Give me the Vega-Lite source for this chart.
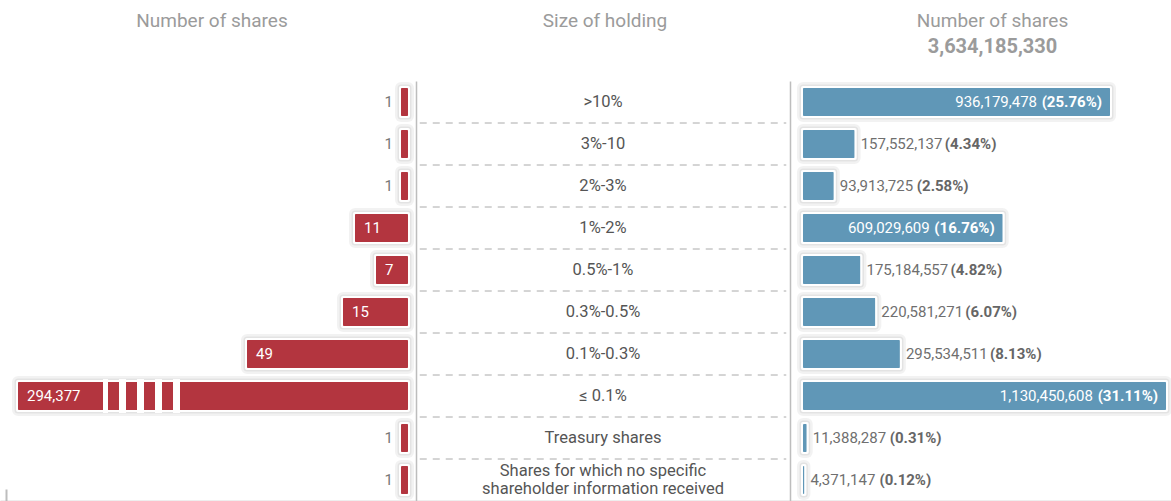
{
  "$schema": "https://vega.github.io/schema/vega-lite/v6.json",
  "padding": {"top": 12, "left": 0, "right": 0, "bottom": 0},
  "spacing": 0,
  "bounds": "flush",
  "background": "white",
  "config": {
    "view": {"stroke": null},
    "font": "Roboto",
    "concat": {"spacing": 0}
  },
  "datasets": {
    "rows": [
      {"cat": ">10%", "holders": 1, "shares": 936179478, "pct": 25.76},
      {"cat": "3%-10", "holders": 1, "shares": 157552137, "pct": 4.34},
      {"cat": "2%-3%", "holders": 1, "shares": 93913725, "pct": 2.58},
      {"cat": "1%-2%", "holders": 11, "shares": 609029609, "pct": 16.76},
      {"cat": "0.5%-1%", "holders": 7, "shares": 175184557, "pct": 4.82},
      {"cat": "0.3%-0.5%", "holders": 15, "shares": 220581271, "pct": 6.07},
      {"cat": "0.1%-0.3%", "holders": 49, "shares": 295534511, "pct": 8.13},
      {"cat": "≤ 0.1%", "holders": 294377, "shares": 1130450608, "pct": 31.11},
      {"cat": "Treasury shares", "holders": 1, "shares": 11388287, "pct": 0.31},
      {"cat": "Shares for which no specific\nshareholder information received", "holders": 1, "shares": 4371147, "pct": 0.12}
    ]
  },
  "hconcat": [
    {
      "width": 416,
      "height": 420,
      "title": {"text": "Number of shares", "fontSize": 19, "fontWeight": "normal", "color": "#9b9b9b", "offset": 50, "anchor": "middle", "dx": 4},
      "data": {"name": "rows"},
      "encoding": {
        "y": {"field": "cat", "type": "nominal", "sort": null,
              "scale": {"paddingInner": 0.3333, "paddingOuter": 0.1667},
              "axis": {"orient": "right", "domain": true, "domainColor": "#bdbdbd", "domainWidth": 1.5, "labels": false, "ticks": false, "title": null, "grid": false}},
        "x": {"field": "holders", "type": "quantitative",
              "scale": {"domain": [-1.15, 0, 1, 7, 11, 15, 49, 294377, 317500], "range": [416, 408, 401, 376, 355, 343, 247, 18, 0], "nice": false, "zero": false, "clamp": true},
              "axis": {"orient": "bottom", "domain": true, "domainColor": "#bdbdbd", "domainWidth": 1.5, "labels": false, "ticks": true, "values": [310000], "tickSize": -12, "tickColor": "#bdbdbd", "tickWidth": 2, "title": null, "grid": false}}
      },
      "layer": [
        {"mark": {"type": "bar", "color": "#b3353f", "stroke": "#000", "strokeOpacity": 0.05, "strokeWidth": 12, "strokeJoin": "round"}},
        {"mark": {"type": "bar", "color": "#b3353f", "stroke": "#000", "strokeOpacity": 0.06, "strokeWidth": 7, "strokeJoin": "round"}},
        {"mark": {"type": "bar", "color": "#b3353f", "stroke": "#ffffff", "strokeWidth": 4, "strokeJoin": "round"}},
        {"mark": {"type": "bar", "color": "#b3353f", "cornerRadius": 1}},
        {"transform": [{"filter": "datum.holders > 1000"}],
         "mark": {"type": "rule", "color": "#ffffff", "strokeWidth": 34, "strokeCap": "butt", "strokeDash": [0, 85, 5, 11, 7, 11, 7, 11, 7, 11, 7, 228]},
         "encoding": {"x2": {"datum": 0}}},
        {"transform": [{"filter": "datum.holders >= 5"}],
         "mark": {"type": "text", "align": "left", "baseline": "middle", "dx": 9, "fontSize": 15, "color": "#ffffff"},
         "encoding": {"text": {"field": "holders", "type": "quantitative", "format": ",d"}}},
        {"transform": [{"filter": "datum.holders < 5"}],
         "mark": {"type": "text", "align": "right", "baseline": "middle", "dx": -8, "fontSize": 15, "color": "#777777"},
         "encoding": {"text": {"field": "holders", "type": "quantitative", "format": ",d"}}}
      ]
    },
    {
      "width": 374,
      "height": 420,
      "title": {"text": "Size of holding", "fontSize": 19, "fontWeight": "normal", "color": "#9b9b9b", "offset": 50, "anchor": "middle", "dx": 2},
      "data": {"name": "rows"},
      "encoding": {
        "y": {"field": "cat", "type": "nominal", "sort": null, "scale": {"padding": 0},
              "axis": null}
      },
      "layer": [
        {"transform": [{"filter": "indexof(datum.cat, 'Shares for which') < 0"}],
         "mark": {"type": "rule", "color": "#aaaaaa", "strokeWidth": 1, "strokeDash": [7, 6]},
         "encoding": {
           "y": {"field": "cat", "type": "nominal", "sort": null, "bandPosition": 1},
           "x": {"datum": -0.98, "type": "quantitative", "scale": {"domain": [-1, 1], "nice": false, "zero": false},
                 "axis": {"orient": "bottom", "domain": true, "domainColor": "#bdbdbd", "domainWidth": 1.5, "labels": false, "ticks": false, "title": null, "grid": false}},
           "x2": {"datum": 0.98}
         }},
        {"transform": [{"filter": "indexof(datum.cat, 'Shares for which') < 0"}],
         "mark": {"type": "text", "fontSize": 16.5, "color": "#555555", "baseline": "middle"},
         "encoding": {
           "x": {"datum": 0, "type": "quantitative"},
           "text": {"field": "cat", "type": "nominal"}
         }},
        {"transform": [{"filter": "indexof(datum.cat, 'Shares for which') >= 0"}],
         "mark": {"type": "text", "fontSize": 16.5, "color": "#555555", "lineBreak": "\n", "baseline": "middle", "dy": -9, "lineHeight": 18},
         "encoding": {
           "x": {"datum": 0, "type": "quantitative"},
           "text": {"field": "cat", "type": "nominal"}
         }}
      ]
    },
    {
      "width": 381,
      "height": 420,
      "title": {"text": "Number of shares", "subtitle": "3,634,185,330", "fontSize": 19, "fontWeight": "normal", "color": "#9b9b9b", "subtitleFontSize": 20, "subtitleFontWeight": "bold", "subtitleColor": "#9b9b9b", "subtitlePadding": 6, "offset": 24, "anchor": "middle", "dx": 12},
      "data": {"name": "rows"},
      "transform": [{"calculate": "'(' + format(datum.pct, '.2f') + '%)'", "as": "pctLabel"}],
      "encoding": {
        "y": {"field": "cat", "type": "nominal", "sort": null,
              "scale": {"paddingInner": 0.3333, "paddingOuter": 0.1667},
              "axis": {"orient": "left", "domain": true, "domainColor": "#bdbdbd", "domainWidth": 1.5, "labels": false, "ticks": false, "title": null, "grid": false}},
        "x": {"field": "shares", "type": "quantitative",
              "scale": {"domain": [-39600000, 0, 936179478, 1130450608, 1146000000], "range": [0, 13, 320, 376, 381], "nice": false, "zero": false},
              "axis": {"orient": "bottom", "domain": true, "domainColor": "#bdbdbd", "domainWidth": 1.5, "labels": false, "ticks": false, "title": null, "grid": false}}
      },
      "layer": [
        {"mark": {"type": "bar", "color": "#6097b7", "stroke": "#000", "strokeOpacity": 0.05, "strokeWidth": 12, "strokeJoin": "round"}},
        {"mark": {"type": "bar", "color": "#6097b7", "stroke": "#000", "strokeOpacity": 0.06, "strokeWidth": 7, "strokeJoin": "round"}},
        {"mark": {"type": "bar", "color": "#6097b7", "stroke": "#ffffff", "strokeWidth": 4, "strokeJoin": "round"}},
        {"mark": {"type": "bar", "color": "#6097b7", "cornerRadius": 1}},
        {"transform": [{"filter": "datum.pct > 15"}],
         "mark": {"type": "text", "align": "right", "baseline": "middle", "dx": -8, "fontSize": 15, "fontWeight": "bold", "color": "#ffffff"},
         "encoding": {"text": {"field": "pctLabel", "type": "nominal"}}},
        {"transform": [{"filter": "datum.pct > 15"}],
         "mark": {"type": "text", "align": "right", "baseline": "middle", "dx": -73, "fontSize": 15, "color": "#ffffff"},
         "encoding": {"text": {"field": "shares", "type": "quantitative", "format": ",d"}}},
        {"transform": [{"filter": "datum.pct <= 15"}],
         "mark": {"type": "text", "align": "left", "baseline": "middle", "dx": 6, "fontSize": 15, "color": "#6f6f6f"},
         "encoding": {"text": {"field": "shares", "type": "quantitative", "format": ",d"}}},
        {"transform": [{"filter": "datum.pct <= 15 && datum.shares >= 100000000"}],
         "mark": {"type": "text", "align": "left", "baseline": "middle", "dx": 90, "fontSize": 15, "fontWeight": "bold", "color": "#666666"},
         "encoding": {"text": {"field": "pctLabel", "type": "nominal"}}},
        {"transform": [{"filter": "datum.pct <= 15 && datum.shares >= 10000000 && datum.shares < 100000000"}],
         "mark": {"type": "text", "align": "left", "baseline": "middle", "dx": 83, "fontSize": 15, "fontWeight": "bold", "color": "#666666"},
         "encoding": {"text": {"field": "pctLabel", "type": "nominal"}}},
        {"transform": [{"filter": "datum.pct <= 15 && datum.shares < 10000000"}],
         "mark": {"type": "text", "align": "left", "baseline": "middle", "dx": 75, "fontSize": 15, "fontWeight": "bold", "color": "#666666"},
         "encoding": {"text": {"field": "pctLabel", "type": "nominal"}}}
      ]
    }
  ]
}
